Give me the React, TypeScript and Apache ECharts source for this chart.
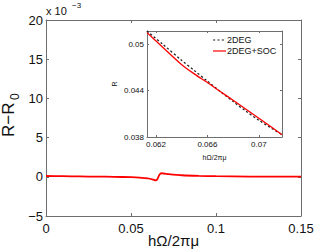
import React, { useEffect, useRef } from "react";
import * as echarts from "echarts";

// Main plot: R - R0 (in units of 1e-3) vs hΩ/2πμ
const mainX = [0, 0.01, 0.02, 0.03, 0.04, 0.05, 0.055, 0.06, 0.063, 0.0645, 0.0655, 0.0668, 0.068, 0.072, 0.08, 0.09, 0.1, 0.12, 0.15];
const mainY = [0.1, 0.08, 0.05, 0.02, 0.0, -0.05, -0.1, -0.2, -0.35, -0.45, -0.3, 0.3, 0.45, 0.35, 0.2, 0.12, 0.08, 0.03, 0.02];

// Inset: R vs hΩ/2πμ
const insetX = [0.0613, 0.0625, 0.064, 0.065, 0.066, 0.067, 0.068, 0.069, 0.07, 0.071, 0.0718];
const deg2 = [0.0517, 0.05002, 0.0479, 0.04656, 0.04522, 0.04388, 0.04258, 0.04133, 0.04016, 0.03912, 0.0383];
const deg2soc = [0.05149, 0.04963, 0.04734, 0.04613, 0.04504, 0.04388, 0.04275, 0.04159, 0.04042, 0.03925, 0.0383];

const mainXTicks = [0, 0.05, 0.1, 0.15];
const mainYTicks = [-5, 0, 5, 10, 15, 20];
const insetXTicks = [0.062, 0.066, 0.07];
const insetYTicks = [0.038, 0.044, 0.05];
const legendNames = ["2DEG", "2DEG+SOC"];

const FONT = "Liberation Sans, Arial, Helvetica, sans-serif";
const AX = "#6e6e6e";

function fmt(v: number) {
  return String(parseFloat(v.toFixed(4)));
}

export default function App() {
  const ref = useRef<HTMLDivElement>(null);
  useEffect(() => {
    if (!ref.current) return;
    const chart = echarts.init(ref.current, null, { renderer: "svg" });
    const tick = { inside: true, length: 3, lineStyle: { color: AX } };
    const line = { show: true, onZero: false, lineStyle: { color: AX, width: 1 } };
    const itick = { ...tick, length: 2 };
    chart.setOption({
      animation: false,
      backgroundColor: "#fff",
      textStyle: { fontFamily: FONT },
      grid: [
        { left: 46, top: 20, width: 255, height: 196, show: false },
        { left: 147, top: 31, width: 135, height: 106, show: true, backgroundColor: "#fff", borderWidth: 0, z: 5 },
      ],
      xAxis: [
        {
          type: "value", gridIndex: 0, min: 0, max: 0.15, interval: 0.05, position: "bottom",
          axisLine: line, axisTick: tick, splitLine: { show: false },
          axisLabel: { fontSize: 13, color: "#111", margin: 6, fontFamily: FONT, customValues: mainXTicks, formatter: (v: number) => fmt(v) },
        },
        {
          type: "value", gridIndex: 0, min: 0, max: 0.15, interval: 0.05, position: "top",
          axisLine: line, axisTick: tick, splitLine: { show: false }, axisLabel: { show: false },
        },
        {
          type: "value", gridIndex: 1, min: 0.0613, max: 0.0718, position: "bottom", z: 6,
          axisLine: line,
          axisTick: { ...itick, customValues: insetXTicks },
          splitLine: { show: false },
          axisLabel: { fontSize: 8, color: "#111", margin: 3, fontFamily: FONT, customValues: insetXTicks, formatter: (v: number) => fmt(v) },
          name: "hΩ/2πμ", nameLocation: "middle", nameGap: 17,
          nameTextStyle: { fontSize: 7, color: "#111", fontFamily: FONT },
        },
        {
          type: "value", gridIndex: 1, min: 0.0613, max: 0.0718, position: "top", z: 6,
          axisLine: line, axisTick: { ...itick, customValues: insetXTicks },
          splitLine: { show: false }, axisLabel: { show: false },
        },
      ],
      yAxis: [
        {
          type: "value", gridIndex: 0, min: -5, max: 20, interval: 5, position: "left",
          axisLine: line, axisTick: tick, splitLine: { show: false },
          axisLabel: { fontSize: 13, color: "#111", margin: 3, fontFamily: FONT, customValues: mainYTicks, formatter: (v: number) => (v < 0 ? "\u2212" + Math.abs(v) : String(v)) },
        },
        {
          type: "value", gridIndex: 0, min: -5, max: 20, interval: 5, position: "right",
          axisLine: line, axisTick: tick, splitLine: { show: false }, axisLabel: { show: false },
        },
        {
          type: "value", gridIndex: 1, min: 0.038, max: 0.0517, position: "left", z: 6,
          axisLine: line,
          axisTick: { ...itick, customValues: insetYTicks },
          splitLine: { show: false },
          axisLabel: { fontSize: 8, color: "#111", margin: 3, fontFamily: FONT, customValues: insetYTicks, formatter: (v: number) => fmt(v) },
          name: "R", nameLocation: "middle", nameGap: 29, nameRotate: 90,
          nameTextStyle: { fontSize: 7, color: "#111", fontFamily: FONT },
        },
        {
          type: "value", gridIndex: 1, min: 0.038, max: 0.0517, position: "right", z: 6,
          axisLine: line, axisTick: { ...itick, customValues: insetYTicks },
          splitLine: { show: false }, axisLabel: { show: false },
        },
      ],
      series: [
        {
          type: "line", name: "main", xAxisIndex: 0, yAxisIndex: 0, showSymbol: false, symbol: "none",
          data: mainX.map((x, i) => [x, mainY[i]]),
          lineStyle: { color: "#ff0000", width: 1.8 }, color: "#ff0000", smooth: 0.2,
        },
        {
          type: "line", name: legendNames[0], xAxisIndex: 2, yAxisIndex: 2, showSymbol: false, symbol: "none", z: 8,
          data: insetX.map((x, i) => [x, deg2[i]]),
          lineStyle: { color: "#222", width: 1.3, type: [2.2, 2.2] }, color: "#222", smooth: 0.3,
        },
        {
          type: "line", name: legendNames[1], xAxisIndex: 2, yAxisIndex: 2, showSymbol: false, symbol: "none", z: 8,
          data: insetX.map((x, i) => [x, deg2soc[i]]),
          lineStyle: { color: "#ff0000", width: 1.3 }, color: "#ff0000", smooth: 0.3,
        },
      ],
      graphic: [
        { type: "text", left: 46, top: 5, style: { text: "x 10", fontSize: 11, fill: "#111", fontFamily: FONT } },
        { type: "text", left: 72, top: 1, style: { text: "\u22123", fontSize: 8, fill: "#111", fontFamily: FONT } },
        { type: "text", x: 0, y: 137, rotation: Math.PI / 2, style: { text: "R\u2212R", fontSize: 17, fill: "#111", fontFamily: FONT, verticalAlign: "top" } },
        { type: "text", x: 9, y: 100, rotation: Math.PI / 2, style: { text: "0", fontSize: 12, fill: "#111", fontFamily: FONT, verticalAlign: "top" } },
        { type: "text", x: 173.5, y: 240, style: { text: "hΩ/2πμ", fontSize: 15, fill: "#111", fontFamily: FONT, align: "center", verticalAlign: "middle" } },
        // legend
        { type: "line", z: 20, shape: { x1: 213, y1: 40, x2: 226, y2: 40 }, style: { stroke: "#222", lineWidth: 1.2, lineDash: [2.2, 2.2] } },
        { type: "text", z: 20, x: 227, y: 40, style: { text: legendNames[0], fontSize: 9, fill: "#111", fontFamily: FONT, verticalAlign: "middle" } },
        { type: "line", z: 20, shape: { x1: 213, y1: 51, x2: 226, y2: 51 }, style: { stroke: "#ff0000", lineWidth: 1.2 } },
        { type: "text", z: 20, x: 227, y: 51, style: { text: legendNames[1], fontSize: 9, fill: "#111", fontFamily: FONT, verticalAlign: "middle" } },
      ],
    });
    return () => chart.dispose();
  }, []);
  return <div ref={ref} style={{ width: 332, height: 251, position: "absolute", left: 0, top: 0 }} />;
}
